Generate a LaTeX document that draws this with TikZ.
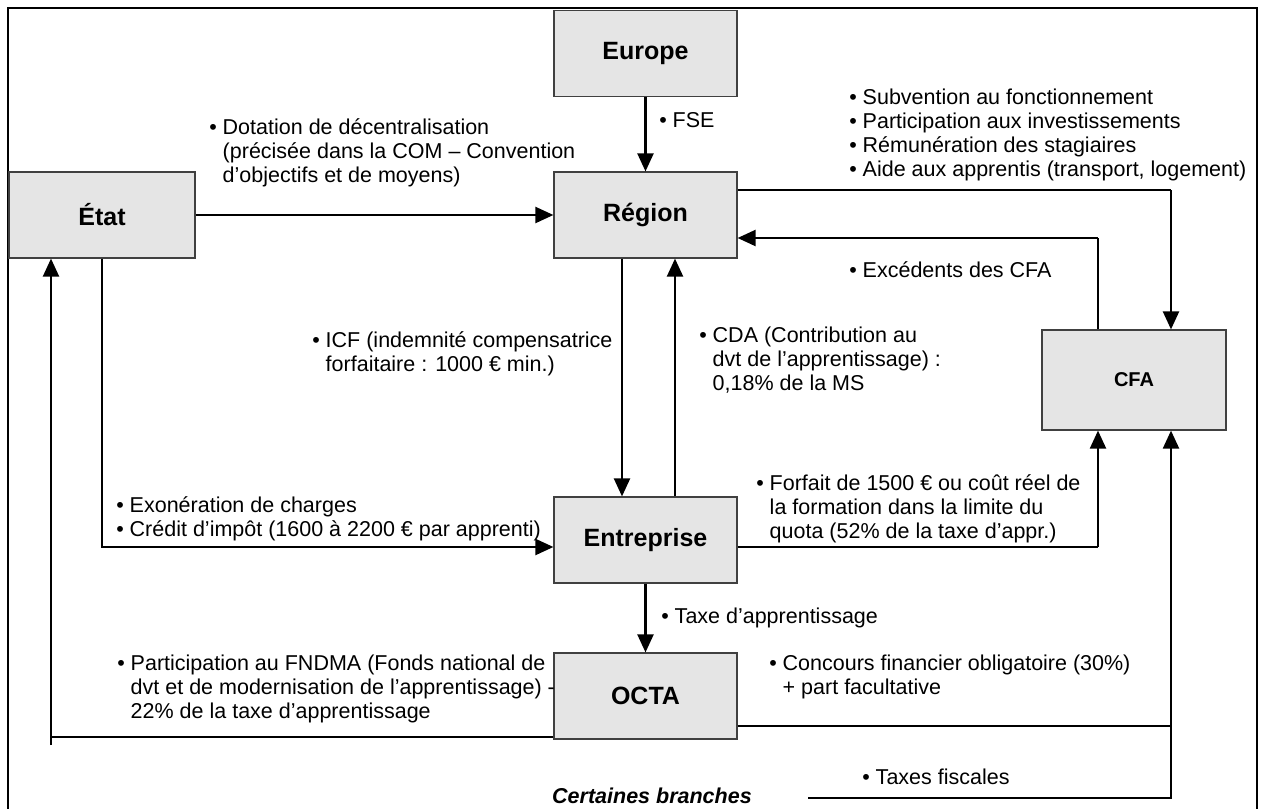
\documentclass[tikz,border=0pt]{standalone}
\usepackage{fontspec}
\setmainfont{Liberation Sans}
\usetikzlibrary{arrows.meta}
\newcommand{\bl}{\makebox[0.62em][l]{•}}
\newcommand{\ib}{\hspace*{0.62em}}
\begin{document}
\begin{tikzpicture}[x=0.5pt,y=-0.5pt,
  boite/.style={draw=black!75, line width=0.6pt, fill=gray!20,
    minimum width=91.5pt, minimum height=43pt,
    font=\fontsize{12.5}{14}\selectfont\bfseries},
  etiq/.style={anchor=west, inner sep=0pt, align=left,
    font=\fontsize{10.75}{12}\selectfont},
  fleche/.style={line width=1.1pt, -{Triangle[length=9pt,width=8pt]}},
  trait/.style={line width=0.6pt}]
\useasboundingbox (0,0) rectangle (1266,809);
\draw[line width=0.8pt] (8,8) rectangle (1257,840);

% les acteurs
\node[boite] (europe) at (645.5,53.5) {Europe};
\node[boite, minimum width=93pt] (etat) at (102,215) {État};
\node[boite] (region) at (645.5,215) {Région};
\node[boite, minimum width=92pt, minimum height=50pt,
  font=\fontsize{10}{12}\selectfont\bfseries] (cfa) at (1134,380) {CFA};
\node[boite] (entreprise) at (645.5,540) {Entreprise};
\node[boite] (octa) at (645.5,696) {OCTA};

% coins des liaisons
\coordinate (hautcfa) at (1171,190);
\coordinate (retour) at (1098,238);
\coordinate (coinetat) at (102,547);
\coordinate (coinent) at (1098,547);
\coordinate (basetat) at (51,737);
\coordinate (coinocta) at (1171,726);
\coordinate (fisc) at (1171,798);
\coordinate (fiscg) at (808,798);

% flux
\draw[fleche] (europe) -- (region);
\draw[fleche] (etat) -- (region);
\draw[trait] (region.east |- hautcfa) -- (hautcfa);
\draw[fleche] (hautcfa) -- (hautcfa |- cfa.north);
\draw[trait] (retour |- cfa.north) -- (retour);
\draw[fleche] (retour) -- (region.east |- retour);
\draw[fleche] ([xshift=-11.75pt]region.south) -- ([xshift=-11.75pt]entreprise.north);
\draw[fleche] ([xshift=14.75pt]entreprise.north) -- ([xshift=14.75pt]region.south);
\draw[fleche] (etat.south) |- (entreprise.west |- coinetat);
\draw[trait] (entreprise.east |- coinent) -- (coinent);
\draw[fleche] (coinent) -- (coinent |- cfa.south);
\draw[fleche] (entreprise) -- (octa);
\draw[trait] (octa.west |- basetat) -- (basetat);
\draw[fleche] ([yshift=-4pt]basetat) -- (basetat |- etat.south);
\draw[trait] (octa.east |- coinocta) -- (coinocta);
\draw[fleche] ([yshift=-15.5pt]coinocta) -- (coinocta |- cfa.south);
\draw[trait] (fiscg) -- (fisc) -- ([yshift=-15.5pt]coinocta);

% libelles
\node[etiq] (lfse) at (659,120) {\bl FSE};
\node[etiq] (ldot) at (209,153) {\bl Dotation de décentralisation\\
  \ib(précisée dans la COM – Convention\\
  \ib d’objectifs et de moyens)};
\node[etiq] (lsub) at (849,135) {\bl Subvention au fonctionnement\\
  \bl Participation aux investissements\\
  \bl Rémunération des stagiaires\\
  \bl Aide aux apprentis (transport, logement)};
\node[etiq] (lexc) at (849,270) {\bl Excédents des CFA};
\node[etiq] (licf) at (312,354) {\bl ICF (indemnité compensatrice\\
  \ib forfaitaire : 1000 € min.)};
\node[etiq] (lcda) at (699,360) {\bl CDA (Contribution au\\
  \ib dvt de l’apprentissage) :\\
  \ib 0,18\% de la MS};
\node[etiq] (lexo) at (116,519) {\bl Exonération de charges\\
  \bl Crédit d’impôt (1600 à 2200 € par apprenti)};
\node[etiq] (lforf) at (756,509) {\bl Forfait de 1500 € ou coût réel de\\
  \ib la formation dans la limite du\\
  \ib quota (52\% de la taxe d’appr.)};
\node[etiq] (ltaxe) at (661,618) {\bl Taxe d’apprentissage};
\node[etiq] (lfnd) at (117,689) {\bl Participation au FNDMA (Fonds national de\\
  \ib dvt et de modernisation de l’apprentissage) -\\
  \ib 22\% de la taxe d’apprentissage};
\node[etiq] (lconc) at (769,677) {\bl Concours financier obligatoire (30\%)\\
  \ib + part facultative};
\node[etiq] (lfisc) at (862,777) {\bl Taxes fiscales};
\node[inner sep=0pt, font=\fontsize{10.75}{12}\selectfont\bfseries\itshape]
  (lbranches) at (652,796) {Certaines branches};
\end{tikzpicture}
\end{document}
